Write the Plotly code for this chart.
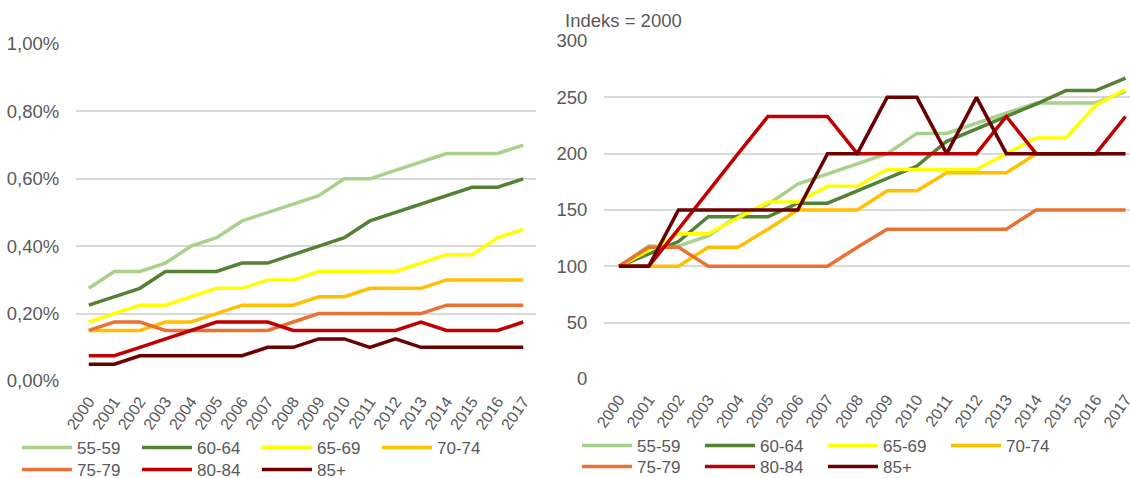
import plotly.graph_objects as go

years = [str(y) for y in range(2000, 2018)]
groups = ["55-59", "60-64", "65-69", "70-74", "75-79", "80-84", "85+"]
colors = ["#A9D18E", "#548235", "#FFFF00", "#FFC000", "#E97132", "#C00000", "#6B0000"]

# Left chart: share (%)
share_55_59 = [0.275, 0.325, 0.325, 0.35, 0.40, 0.425, 0.475, 0.50, 0.525, 0.55, 0.60, 0.60, 0.625, 0.65, 0.675, 0.675, 0.675, 0.70]
share_60_64 = [0.225, 0.25, 0.275, 0.325, 0.325, 0.325, 0.35, 0.35, 0.375, 0.40, 0.425, 0.475, 0.50, 0.525, 0.55, 0.575, 0.575, 0.60]
share_65_69 = [0.175, 0.20, 0.225, 0.225, 0.25, 0.275, 0.275, 0.30, 0.30, 0.325, 0.325, 0.325, 0.325, 0.35, 0.375, 0.375, 0.425, 0.45]
share_70_74 = [0.15, 0.15, 0.15, 0.175, 0.175, 0.20, 0.225, 0.225, 0.225, 0.25, 0.25, 0.275, 0.275, 0.275, 0.30, 0.30, 0.30, 0.30]
share_75_79 = [0.15, 0.175, 0.175, 0.15, 0.15, 0.15, 0.15, 0.15, 0.175, 0.20, 0.20, 0.20, 0.20, 0.20, 0.225, 0.225, 0.225, 0.225]
share_80_84 = [0.075, 0.075, 0.10, 0.125, 0.15, 0.175, 0.175, 0.175, 0.15, 0.15, 0.15, 0.15, 0.15, 0.175, 0.15, 0.15, 0.15, 0.175]
share_85p = [0.05, 0.05, 0.075, 0.075, 0.075, 0.075, 0.075, 0.10, 0.10, 0.125, 0.125, 0.10, 0.125, 0.10, 0.10, 0.10, 0.10, 0.10]

# Right chart: index (2000 = 100)
idx_55_59 = [100, 118, 118, 127, 145, 155, 173, 182, 191, 200, 218, 218, 227, 236, 245, 245, 245, 255]
idx_60_64 = [100, 111, 122, 144, 144, 144, 156, 156, 167, 178, 189, 211, 222, 233, 244, 256, 256, 267]
idx_65_69 = [100, 114, 129, 129, 143, 157, 157, 171, 171, 186, 186, 186, 186, 200, 214, 214, 243, 257]
idx_70_74 = [100, 100, 100, 117, 117, 133, 150, 150, 150, 167, 167, 183, 183, 183, 200, 200, 200, 200]
idx_75_79 = [100, 117, 117, 100, 100, 100, 100, 100, 117, 133, 133, 133, 133, 133, 150, 150, 150, 150]
idx_80_84 = [100, 100, 133, 167, 200, 233, 233, 233, 200, 200, 200, 200, 200, 233, 200, 200, 200, 233]
idx_85p = [100, 100, 150, 150, 150, 150, 150, 200, 200, 250, 250, 200, 250, 200, 200, 200, 200, 200]

shares = [share_55_59, share_60_64, share_65_69, share_70_74, share_75_79, share_80_84, share_85p]
indices = [idx_55_59, idx_60_64, idx_65_69, idx_70_74, idx_75_79, idx_80_84, idx_85p]

W, H = 1130, 478
FONT = "Liberation Sans, Arial, sans-serif"
GREY = "#595959"
GRID = "#D9D9D9"

# legend ids: first 4 groups on row 1, remaining 3 on row 2
left_legends = ["legend", "legend", "legend", "legend", "legend2", "legend2", "legend2"]
right_legends = ["legend3", "legend3", "legend3", "legend3", "legend4", "legend4", "legend4"]

fig = go.Figure()
for g, c, s, lg in zip(groups, colors, shares, left_legends):
    fig.add_trace(go.Scatter(x=years, y=[v / 100 for v in s], name=g, mode="lines",
                             line=dict(color=c, width=3.5), xaxis="x", yaxis="y",
                             legend=lg))
for g, c, s, lg in zip(groups, colors, indices, right_legends):
    fig.add_trace(go.Scatter(x=years, y=s, name=g, mode="lines",
                             line=dict(color=c, width=3.5), xaxis="x2", yaxis="y2",
                             legend=lg))

xaxis_common = dict(showline=False, zeroline=False, automargin=False, type="category",
                    tickangle=-55, showgrid=False, ticks="outside", ticklen=4,
                    tickcolor="rgba(0,0,0,0)",
                    tickfont=dict(family=FONT, size=16, color=GREY))
yaxis_common = dict(showline=False, zeroline=False, automargin=False,
                    ticks="outside", ticklen=12, tickcolor="rgba(0,0,0,0)",
                    showgrid=True, gridcolor=GRID, gridwidth=1.5,
                    tickfont=dict(family=FONT, size=18.5, color=GREY))

legend_common = dict(orientation="h", xanchor="left", yanchor="middle",
                     itemwidth=50, tracegroupgap=0, borderwidth=0,
                     font=dict(family=FONT, size=17, color=GREY),
                     bgcolor="rgba(0,0,0,0)")

fig.update_layout(
    width=W, height=H,
    margin=dict(l=0, r=0, t=0, b=0, autoexpand=False),
    paper_bgcolor="white", plot_bgcolor="white",
    separators=", ",
    showlegend=True,
    font=dict(family=FONT, size=17, color=GREY),
    xaxis=dict(domain=[76 / W, 536 / W], range=[-0.5, 17.5], anchor="y", **xaxis_common),
    yaxis=dict(domain=[1 - 381 / H, 1 - 44 / H], range=[0, 0.01], dtick=0.002,
               tickformat=".2%", anchor="x", **yaxis_common),
    xaxis2=dict(domain=[604 / W, 1.0], range=[-0.5, 17.15], anchor="y2", **xaxis_common),
    yaxis2=dict(domain=[1 - 379 / H, 1 - 41 / H], range=[0, 300], dtick=50,
                anchor="x2", **yaxis_common),
    legend=dict(x=17 / W, y=1 - 448 / H, entrywidth=55, **legend_common),
    legend2=dict(x=17 / W, y=1 - 470 / H, entrywidth=55, **legend_common),
    legend3=dict(x=577 / W, y=1 - 446 / H, entrywidth=58, **legend_common),
    legend4=dict(x=577 / W, y=1 - 467 / H, entrywidth=58, **legend_common),
    annotations=[dict(text="Indeks = 2000", x=563 / W, y=1 - 20 / H, xref="paper", yref="paper",
                      xanchor="left", yanchor="middle", showarrow=False,
                      font=dict(family=FONT, size=18.5, color=GREY))],
)

fig.write_html("out.html", config={"displayModeBar": False},
               post_script="document.body.style.margin='0';document.body.style.padding='0';")
